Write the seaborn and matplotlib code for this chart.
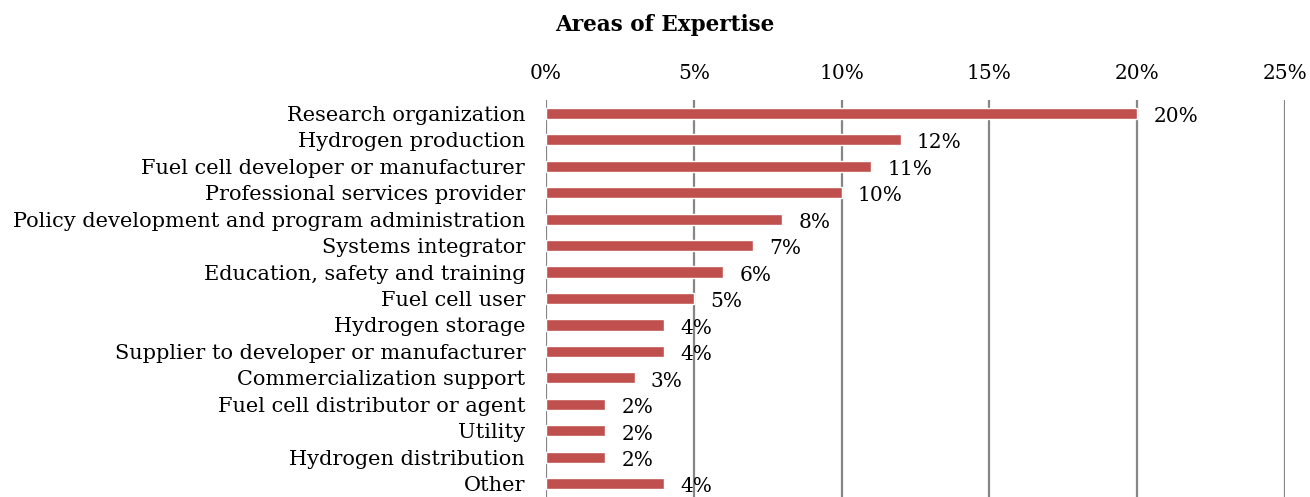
import pandas as pd
import seaborn as sns
import matplotlib.pyplot as plt

categories = [
    "Research organization",
    "Hydrogen production",
    "Fuel cell developer or manufacturer",
    "Professional services provider",
    "Policy development and program administration",
    "Systems integrator",
    "Education, safety and training",
    "Fuel cell user",
    "Hydrogen storage",
    "Supplier to developer or manufacturer",
    "Commercialization support",
    "Fuel cell distributor or agent",
    "Utility",
    "Hydrogen distribution",
    "Other",
]
shares = [20, 12, 11, 10, 8, 7, 6, 5, 4, 4, 3, 2, 2, 2, 4]
x_ticks = [0, 5, 10, 15, 20, 25]

df = pd.DataFrame({"Area": categories, "Share": shares})

sns.set_style("white")
plt.rcParams["font.family"] = ["DejaVu Serif"]
plt.rcParams["text.color"] = "black"
plt.rcParams["xtick.color"] = "black"
plt.rcParams["ytick.color"] = "black"

fig = plt.figure(figsize=(13.1, 4.97), dpi=100)
ax = fig.add_axes([546 / 1310, 0, (1285 - 546) / 1310, 1 - 100 / 497])

sns.barplot(data=df, x="Share", y="Area", color="#C0504D", width=0.42,
            saturation=1, ax=ax, zorder=3)

ax.set_xlim(0, 25)
ax.set_ylim(len(categories) - 0.5, -0.5)
ax.set_xticks(x_ticks)
ax.set_xticklabels([f"{t}%" for t in x_ticks], fontsize=14.5)
ax.xaxis.tick_top()
ax.tick_params(axis="x", length=0, pad=12)
ax.tick_params(axis="y", length=0, pad=15, labelsize=15)
ax.set_xlabel("")
ax.set_ylabel("")
ax.grid(axis="x", color="#868686", linewidth=1.6, zorder=0)
for s in ax.spines.values():
    s.set_visible(False)

for i, v in enumerate(shares):
    ax.text(v + 0.55, i + 0.12, f"{v}%", va="center", ha="left",
            fontsize=14.5, zorder=4)

fig.text(665 / 1310, 1 - 25 / 497, "Areas of Expertise", ha="center", va="center",
         fontsize=15.5, fontweight="bold")

fig.savefig("out.png", dpi=100)
